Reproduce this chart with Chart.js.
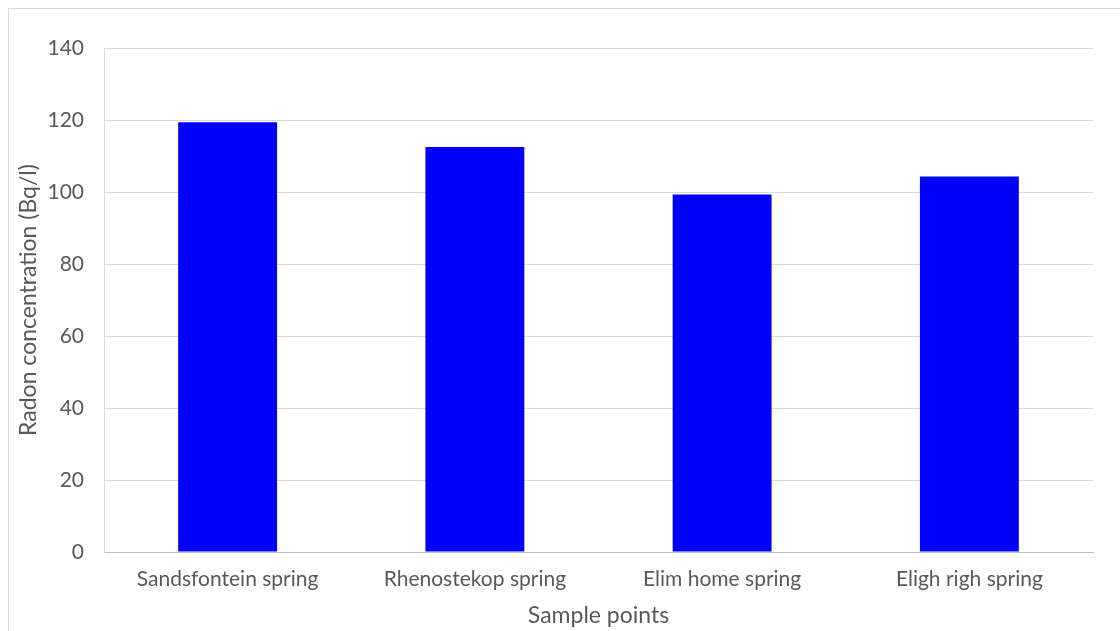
<!DOCTYPE html>
<html>
<head>
<meta charset="utf-8">
<script src="https://cdn.jsdelivr.net/npm/chart.js@4/dist/chart.umd.min.js"></script>
<style>
  html, body { margin: 0; padding: 0; background: #ffffff; }
  #wrap { width: 1120px; height: 631px; position: relative; }
</style>
</head>
<body>
<div id="wrap"><canvas id="chart" width="1120" height="631"></canvas></div>
<script>
// Radon concentration measured at each spring
const categories = ['Sandsfontein spring', 'Rhenostekop spring', 'Elim home spring', 'Eligh righ spring'];
const radonValues = [119.4, 112.5, 99.3, 104.3];
const yTicks = [0, 20, 40, 60, 80, 100, 120, 140];

const FONT = 'Lato, "Open Sans", sans-serif';
const TEXT = '#595959';

// Light frame around the whole chart area
const framePlugin = {
  id: 'frame',
  beforeDraw(chart) {
    const ctx = chart.ctx;
    ctx.save();
    ctx.strokeStyle = '#d9d9d9';
    ctx.lineWidth = 1;
    ctx.strokeRect(8.5, 8.5, chart.width + 20, chart.height + 20);
    ctx.restore();
  }
};

new Chart(document.getElementById('chart'), {
  type: 'bar',
  data: {
    labels: categories,
    datasets: [{
      label: 'Radon concentration',
      data: radonValues,
      backgroundColor: '#0000ff',
      borderWidth: 0,
      barPercentage: 0.4,
      categoryPercentage: 1.0
    }]
  },
  options: {
    responsive: false,
    animation: false,
    layout: { padding: { left: 0, top: 48, right: 27, bottom: 0 } },
    plugins: {
      legend: { display: false },
      tooltip: { enabled: false }
    },
    scales: {
      x: {
        grid: { display: false, drawTicks: false },
        border: { display: true, color: '#bfbfbf', width: 1 },
        ticks: { color: TEXT, font: { family: FONT, size: 21 }, padding: 15, maxRotation: 0 },
        title: {
          display: true, text: 'Sample points', color: TEXT,
          font: { family: FONT, size: 23 }, padding: { top: 0, bottom: 2 }
        },
        afterFit(scale) { scale.height = 79; }
      },
      y: {
        min: 0, max: 140,
        afterBuildTicks(scale) { scale.ticks = yTicks.map(v => ({ value: v })); },
        grid: { color: '#d9d9d9', lineWidth: 1, drawTicks: false },
        border: { display: true, color: '#d9d9d9', width: 1 },
        ticks: { color: TEXT, font: { family: FONT, size: 21 }, padding: 20 },
        title: {
          display: true, text: 'Radon concentration (Bq/l)', color: TEXT,
          font: { family: FONT, size: 23 }, padding: { top: 15, bottom: 0 }
        },
        afterFit(scale) { scale.width = 104; }
      }
    }
  },
  plugins: [framePlugin]
});
</script>
</body>
</html>
